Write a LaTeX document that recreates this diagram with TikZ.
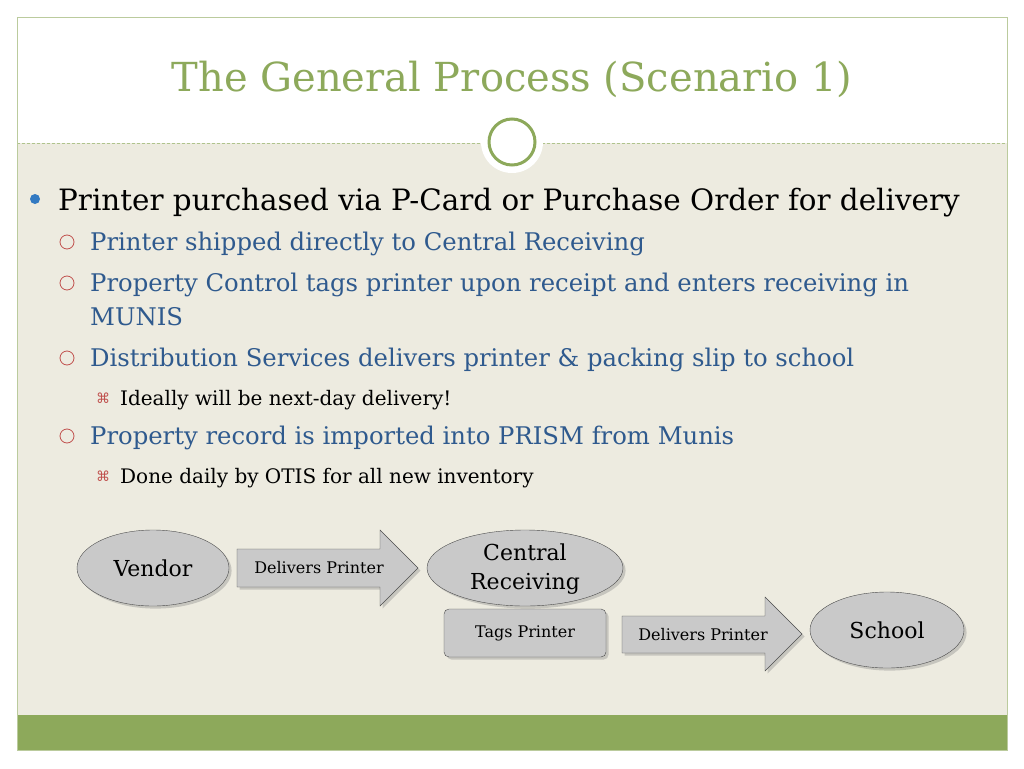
\documentclass[tikz,border=0pt]{standalone}
\usepackage{fontspec}
\setmainfont{DejaVu Serif}
\newfontfamily\symfont{DejaVu Sans}
\usetikzlibrary{shadows}
\definecolor{olive}{HTML}{8DA95B}
\definecolor{beige}{HTML}{EDEBE0}
\definecolor{subblue}{HTML}{2F5A8E}
\definecolor{bulred}{HTML}{C0504D}
\definecolor{shapegray}{HTML}{C9C9C9}
\begin{document}
\begin{tikzpicture}
[x=1pt,y=-1pt,
 shp/.style={draw=black!70,fill=shapegray,drop shadow={opacity=0.35}},
 main/.style={anchor=base west,inner sep=0pt,font=\fontsize{29.4}{34}\selectfont},
 sub/.style={anchor=base west,inner sep=0pt,text=subblue,font=\fontsize{24.3}{30}\selectfont},
 subsub/.style={anchor=base west,inner sep=0pt,font=\fontsize{20}{26}\selectfont},
 lab/.style={font=\fontsize{16}{20}\selectfont,align=center}]
\useasboundingbox (0,0) rectangle (1024,768);
\fill[white] (0,0) rectangle (1024,768);
% frame and bands
\fill[beige] (17,143) rectangle (1007,715);
\fill[olive] (17,715) rectangle (1007,750);
\draw[olive!70,densely dashed] (17,143) -- (1007,143);
\draw[olive!60] (17,17) rectangle (1007,750);
\node[text=olive,font=\fontsize{40}{48}\selectfont] (title) at (512,79) {The General Process (Scenario 1)};
\fill[white] (512,142) circle[radius=31];
\draw[olive,line width=3pt] (512,142) circle[radius=23];
% bullets
\fill[blue!50!cyan!70!black!80] (35,199) circle[radius=5];
\node[main] (b1) at (58,210) {Printer purchased via P-Card or Purchase Order for delivery};
\foreach \y/\t in {250/Printer shipped directly to Central Receiving,
  291/Property Control tags printer upon receipt and enters receiving in,
  366/Distribution Services delivers printer \& packing slip to school,
  444/Property record is imported into PRISM from Munis} {
  \draw[bulred,line width=0.8pt] (67,\y-8) circle[radius=7];
  \node[sub] at (90,\y) {\t};
}
\node[sub] (munis) at (90,325) {MUNIS};
\foreach \y in {405,483}
  \node[subsub] at (96,\y-2) {\textcolor{bulred}{\symfont\fontsize{14}{14}\selectfont ⌘}};
\node[subsub] (i1) at (120,405) {Ideally will be next-day delivery!};
\node[subsub] (i2) at (120,483) {Done daily by OTIS for all new inventory};
% flow
\draw[shp] (153,568) ellipse[x radius=76,y radius=38];
\node[font=\fontsize{22}{26}\selectfont] (vendor) at (153,568) {Vendor};
\draw[shp] (237,549) -- (380,549) -- (380,530) -- (418,568) -- (380,606) -- (380,587) -- (237,587) -- cycle;
\node[lab] (deliv1) at (319,568) {Delivers Printer};
\draw[shp] (525,568) ellipse[x radius=98,y radius=38];
\node[lab,font=\fontsize{22}{29}\selectfont] (central) at (525,569) {Central\\Receiving};
\draw[shp,rounded corners=5] (444,609) rectangle (606,657);
\node[lab] (tags) at (525,633) {Tags Printer};
\draw[shp] (622,616) -- (765,616) -- (765,597) -- (802,634) -- (765,671) -- (765,653) -- (622,653) -- cycle;
\node[lab] (deliv2) at (703,635) {Delivers Printer};
\draw[shp] (887,630) ellipse[x radius=77,y radius=38];
\node[font=\fontsize{22}{26}\selectfont] (school) at (887,630) {School};
\end{tikzpicture}
\end{document}
